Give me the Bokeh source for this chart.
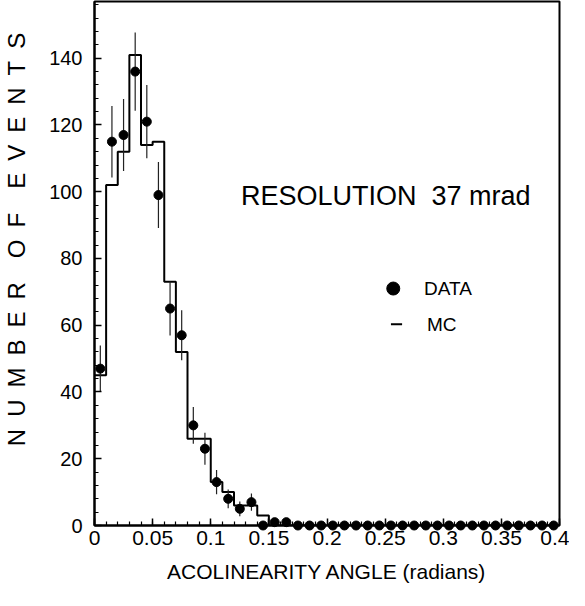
import numpy as np
from bokeh.plotting import figure
from bokeh.models import Range1d, FixedTicker, Label, ColumnDataSource
from bokeh.embed import file_html
from bokeh.resources import INLINE

# ---------------- data ----------------
bin_edges = [round(v, 3) for v in np.linspace(0.0, 0.4, 41)]
bin_centers = [round(0.005 + 0.01 * i, 3) for i in range(40)]

data_counts = [47, 115, 117, 136, 121, 99, 65, 57, 30, 23,
               13, 8, 5, 7, 0, 1, 1, 0, 0, 0,
               0, 0, 0, 0, 0, 0, 0, 0, 0, 0,
               0, 0, 0, 0, 0, 0, 0, 0, 0, 0]
data_errors = [6.9, 10.7, 10.8, 11.7, 11.0, 9.9, 8.1, 7.5, 5.5, 4.8,
               3.6, 2.8, 2.2, 2.6, 0.0, 1.0, 1.0, 0.0, 0.0, 0.0,
               0.0, 0.0, 0.0, 0.0, 0.0, 0.0, 0.0, 0.0, 0.0, 0.0,
               0.0, 0.0, 0.0, 0.0, 0.0, 0.0, 0.0, 0.0, 0.0, 0.0]
mc_counts = [45, 102, 112, 141, 114, 115, 73, 52, 26, 26,
             13, 10, 6, 6, 3, 0, 0, 0, 0, 0,
             0, 0, 0, 0, 0, 0, 0, 0, 0, 0,
             0, 0, 0, 0, 0, 0, 0, 0, 0, 0]

x_ticks = [0, 0.05, 0.1, 0.15, 0.2, 0.25, 0.3, 0.35, 0.4]
x_tick_labels = ["0", "0.05", "0.1", "0.15", "0.2", "0.25", "0.3", "0.35", "0.4"]
x_minor = [round(0.01 * i, 2) for i in range(41)]
y_ticks = [0, 20, 40, 60, 80, 100, 120, 140]
y_tick_labels = ["0", "20", "40", "60", "80", "100", "120", "140"]
y_minor = list(range(0, 157, 4))

FONT = "Liberation Sans"

p = figure(width=569, height=590, output_backend="svg", toolbar_location=None,
           x_range=Range1d(0, 0.4), y_range=Range1d(0, 157),
           min_border_left=89, min_border_right=10, min_border_top=1,
           min_border_bottom=65)
p.background_fill_color = "white"
p.border_fill_color = "white"
p.outline_line_color = "black"
p.outline_line_width = 2
p.xgrid.visible = False
p.ygrid.visible = False

for ax in (p.xaxis[0], p.yaxis[0]):
    ax.axis_line_width = 2
    ax.major_tick_in = 7
    ax.major_tick_out = 0
    ax.minor_tick_in = 4
    ax.minor_tick_out = 0
    ax.major_tick_line_width = 1.5
    ax.minor_tick_line_width = 1.2
    ax.major_label_text_font = FONT
    ax.major_label_text_color = "black"
    ax.axis_label_text_color = "black"
    ax.axis_label_text_font = FONT
    ax.axis_label_text_font_style = "normal"

p.xaxis.major_label_text_font_size = "21px"
p.yaxis.major_label_text_font_size = "20px"
p.xaxis.ticker = FixedTicker(ticks=x_ticks, minor_ticks=x_minor)
p.yaxis.ticker = FixedTicker(ticks=y_ticks, minor_ticks=y_minor)
p.xaxis.major_label_overrides = dict(zip(x_ticks, x_tick_labels))
p.yaxis.major_label_overrides = dict(zip(y_ticks, y_tick_labels))
p.xaxis.major_label_standoff = 5
p.yaxis.major_label_standoff = 12

p.xaxis.axis_label = "ACOLINEARITY ANGLE (radians)"
p.xaxis.axis_label_text_font_size = "21px"
p.xaxis.axis_label_standoff = 12

# y-axis title, letter-spaced; leading em-spaces lift it to where it sits in the original
ytitle = ("\u2003\u2003" + "\u2002".join("NUMBER") + "\u2003" + "\u2002".join("OF")
          + "\u2003" + "\u2002".join("EVENTS"))
p.yaxis.axis_label = ytitle
p.yaxis.axis_label_text_font_size = "24px"
p.yaxis.axis_label_standoff = 16

# MC histogram (step outline)
p.step(x=bin_edges, y=mc_counts + [mc_counts[-1]], mode="after",
       line_color="black", line_width=2)

# data with error bars
lo = [c - e for c, e in zip(data_counts, data_errors)]
hi = [c + e for c, e in zip(data_counts, data_errors)]
src = ColumnDataSource(dict(x=bin_centers, y=data_counts, lo=lo, hi=hi))
p.segment(x0="x", y0="lo", x1="x", y1="hi", source=src,
          line_color="#222222", line_width=1.2)
p.scatter(x="x", y="y", source=src, size=9, marker="circle",
          fill_color="black", line_color="black", level="overlay")

# annotation
p.add_layout(Label(x=0.126, y=98.6, text="RESOLUTION\u00a0\u00a037 mrad",
                   text_align="left", text_baseline="alphabetic",
                   text_font=FONT, text_font_size="27px", text_color="black"))

# legend (drawn by hand)
p.scatter(x=[0.257], y=[71], size=13, marker="circle",
          fill_color="black", line_color="black")
p.add_layout(Label(x=0.2834, y=71, text="DATA", text_align="left",
                   text_baseline="middle", text_font=FONT,
                   text_font_size="19px", text_color="black"))
p.segment(x0=[0.255], y0=[60.3], x1=[0.2646], y1=[60.3],
          line_color="black", line_width=2)
p.add_layout(Label(x=0.286, y=60.3, text="MC", text_align="left",
                   text_baseline="middle", text_font=FONT,
                   text_font_size="19px", text_color="black"))

open("out.html", "w").write(file_html(p, INLINE))
